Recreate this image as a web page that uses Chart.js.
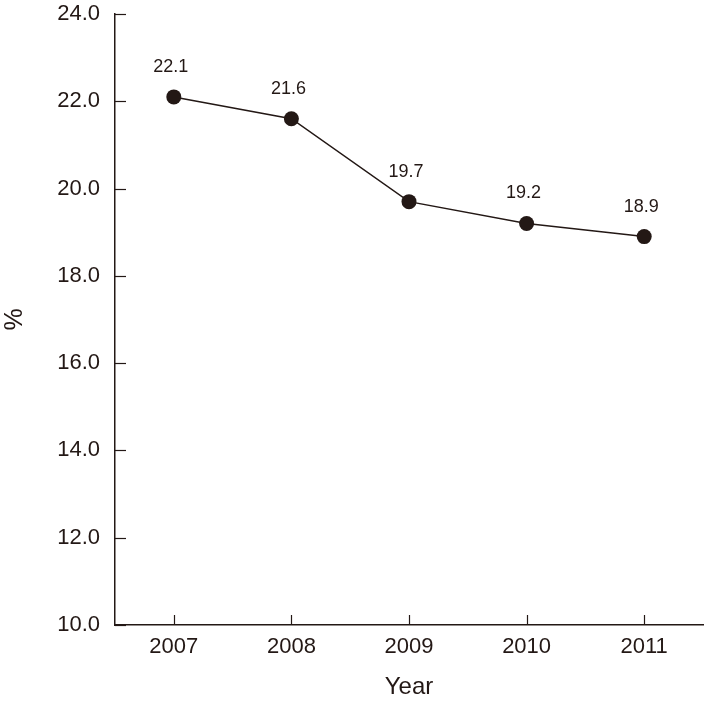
<!DOCTYPE html>
<html lang="en">
<head>
<meta charset="UTF-8">
<title>Chart</title>
<script src="https://cdn.jsdelivr.net/npm/chart.js"></script>
<style>
  html, body { margin: 0; padding: 0; background: #fff; }
  .chartBox { width: 706px; height: 702px; }
</style>
</head>
<body>
<div class="chartBox">
  <canvas id="chart"></canvas>
</div>
<script>
// data
const years = ["2007", "2008", "2009", "2010", "2011"];
const percents = [22.1, 21.6, 19.7, 19.2, 18.9];
const yMin = 10;
const yMax = 24;
const yStep = 2;

const ink = "#231815";
const fontFamily = "'Liberation Sans', Arial, sans-serif";

// inward tick marks + value labels
const extras = {
  id: "extras",
  afterDraw(chart) {
    const { ctx, scales: { x, y } } = chart;
    ctx.save();
    ctx.strokeStyle = ink;
    ctx.lineWidth = 1.2;
    y.ticks.forEach((t, i) => {
      const py = Math.round(y.getPixelForTick(i)) + 0.5;
      ctx.beginPath();
      ctx.moveTo(x.left, py);
      ctx.lineTo(x.left + 11, py);
      ctx.stroke();
    });
    x.ticks.forEach((t, i) => {
      const px = Math.round(x.getPixelForTick(i)) + 0.5;
      ctx.beginPath();
      ctx.moveTo(px, y.bottom);
      ctx.lineTo(px, y.bottom - 10);
      ctx.stroke();
    });

    // labels above points
    const meta = chart.getDatasetMeta(0);
    ctx.fillStyle = ink;
    ctx.font = "18px " + fontFamily;
    ctx.textAlign = "center";
    ctx.textBaseline = "bottom";
    meta.data.forEach((pt, i) => {
      ctx.fillText(percents[i].toFixed(1), pt.x - 3, pt.y - 21);
    });
    ctx.restore();
  }
};

const config = {
  type: "line",
  data: {
    labels: years,
    datasets: [{
      data: percents,
      borderColor: ink,
      borderWidth: 1.5,
      backgroundColor: ink,
      pointBackgroundColor: ink,
      pointBorderColor: ink,
      pointRadius: 7.5,
      pointBorderWidth: 0,
      tension: 0
    }]
  },
  options: {
    responsive: true,
    maintainAspectRatio: false,
    animation: false,
    layout: { autoPadding: false, padding: { top: 14, right: 3, left: 0, bottom: 0 } },
    plugins: {
      legend: { display: false },
      tooltip: { enabled: false }
    },
    scales: {
      x: {
        offset: true,
        grid: { display: false, drawTicks: false },
        border: { display: true, color: ink, width: 1.5 },
        afterFit: (s) => { s.height = 77; s.paddingLeft = 0; s.paddingRight = 0; },
        ticks: {
          color: ink,
          padding: 9,
          font: { family: fontFamily, size: 22 }
        },
        title: {
          display: true,
          text: "Year",
          color: ink,
          padding: { top: 4, bottom: 0 },
          font: { family: fontFamily, size: 24 }
        }
      },
      y: {
        min: yMin,
        max: yMax,
        grid: { display: false, drawTicks: false },
        border: { display: true, color: ink, width: 1.5 },
        afterFit: (s) => { s.width = 115; s.paddingTop = 0; s.paddingBottom = 0; },
        ticks: {
          stepSize: yStep,
          color: ink,
          padding: 15,
          font: { family: fontFamily, size: 22 },
          callback: (v) => Number(v).toFixed(1)
        },
        title: {
          display: true,
          text: "%",
          color: ink,
          padding: { top: 0, bottom: 4 },
          font: { family: fontFamily, size: 25 }
        }
      }
    }
  },
  plugins: [extras]
};

new Chart(document.getElementById("chart"), config);
</script>
</body>
</html>
